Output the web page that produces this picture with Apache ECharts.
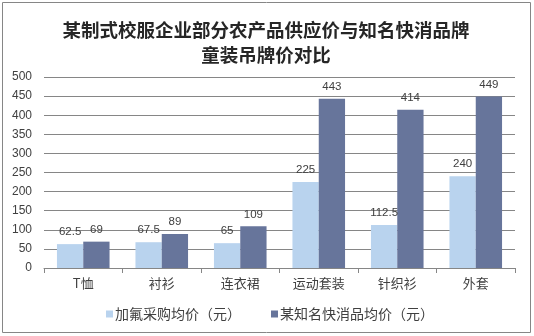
<!DOCTYPE html>
<html>
<head>
<meta charset="utf-8">
<script src="https://cdn.jsdelivr.net/npm/echarts@6/dist/echarts.min.js"></script>
<style>
  html, body { margin: 0; padding: 0; background: #fff; }
  #chart { width: 534px; height: 336px; }
</style>
</head>
<body>
<div id="chart"></div>
<script>
// Categories and series values
const categories = ['T恤', '衬衫', '连衣裙', '运动套装', '针织衫', '外套'];
const schoolPrice = [62.5, 67.5, 65, 225, 112.5, 240];
const brandPrice = [69, 89, 109, 443, 414, 449];
const seriesNames = ['加氟采购均价（元）', '某知名快消品均价（元）'];
const yTicks = { min: 0, max: 500, interval: 50 };

const chart = echarts.init(document.getElementById('chart'), null, { renderer: 'canvas' });

const labelStyle = {
  show: true,
  position: 'top',
  distance: 6,
  color: '#404040',
  fontSize: 11.5,
  fontFamily: 'Liberation Sans, Arial, sans-serif'
};

chart.setOption({
  animation: false,
  backgroundColor: '#fff',
  title: {
    text: '某制式校服企业部分农产品供应价与知名快消品牌\n童装吊牌价对比',
    left: 261,
    textAlign: 'center',
    top: 12,
    textStyle: {
      fontFamily: 'Noto Sans CJK SC',
      fontWeight: 'bold',
      fontSize: 18.5,
      lineHeight: 25,
      color: '#262626'
    }
  },
  legend: {
    data: seriesNames,
    left: 101,
    top: 302,
    itemWidth: 7,
    itemHeight: 7,
    itemGap: 30,
    icon: 'rect',
    textStyle: {
      fontFamily: 'Noto Sans CJK SC',
      fontSize: 14,
      color: '#404040',
      padding: [0, 0, 0, -3]
    }
  },
  grid: { left: 44, right: 19, top: 77, bottom: 68 },
  xAxis: {
    type: 'category',
    data: categories,
    axisLine: { lineStyle: { color: '#868686', width: 1 } },
    axisTick: { show: true, length: 5, lineStyle: { color: '#868686' } },
    axisLabel: {
      fontFamily: 'Noto Sans CJK SC',
      fontSize: 13,
      color: '#404040',
      margin: 9
    }
  },
  yAxis: {
    type: 'value',
    min: yTicks.min,
    max: yTicks.max,
    interval: yTicks.interval,
    axisLine: { show: false },
    axisTick: { show: false },
    splitLine: { lineStyle: { color: '#868686', width: 1 } },
    axisLabel: {
      fontFamily: 'Liberation Sans, Arial, sans-serif',
      fontSize: 12,
      color: '#404040',
      margin: 12
    }
  },
  series: [
    {
      name: seriesNames[0],
      type: 'bar',
      data: schoolPrice,
      barGap: '0%',
      barCategoryGap: '33%',
      itemStyle: { color: '#B9D3EE' },
      label: labelStyle
    },
    {
      name: seriesNames[1],
      type: 'bar',
      data: brandPrice,
      barGap: '0%',
      barCategoryGap: '33%',
      itemStyle: { color: '#67759B' },
      label: labelStyle
    }
  ],
  graphic: [
    {
      type: 'rect',
      shape: { x: 2.5, y: 2.5, width: 528, height: 330 },
      style: { fill: 'none', stroke: '#868686', lineWidth: 1 },
      silent: true
    }
  ]
});
</script>
</body>
</html>
